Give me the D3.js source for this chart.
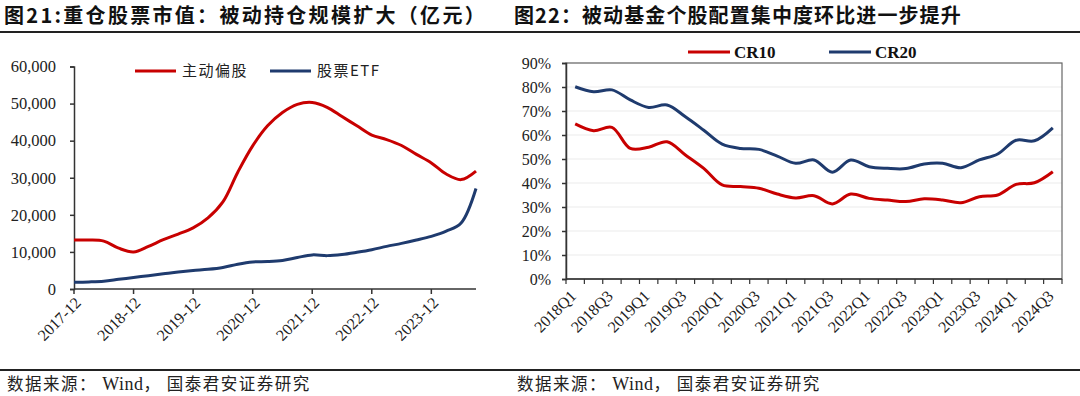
<!DOCTYPE html>
<html>
<head>
<meta charset="utf-8">
<script src="https://cdn.jsdelivr.net/npm/d3@7"></script>
<style>
  body { margin: 0; background: #fff; }
  svg { display: block; }
</style>
</head>
<body>
<svg id="chart"></svg>
<script>
// ---- data (left: 重仓股票市值, quarterly, 亿元) ----
const leftDates = [
  "2017-12", "2018-03", "2018-06", "2018-09", "2018-12", "2019-03", "2019-06",
  "2019-09", "2019-12", "2020-03", "2020-06", "2020-09", "2020-12", "2021-03",
  "2021-06", "2021-09", "2021-12", "2022-03", "2022-06", "2022-09", "2022-12",
  "2023-03", "2023-06", "2023-09", "2023-12", "2024-03", "2024-06", "2024-09"
];
const activeFund = [
  13200, 13200, 12900, 11000, 10000, 11500, 13300, 14800, 16500, 19200,
  23500, 31500, 38600, 44000, 47600, 49800, 50300, 49000, 46500, 44000,
  41500, 40300, 38700, 36300, 34000, 31000, 29500, 31800
];
const stockETF = [
  1800, 1900, 2100, 2600, 3100, 3600, 4100, 4600, 5000, 5300,
  5800, 6700, 7300, 7400, 7700, 8500, 9200, 9000, 9300, 9900,
  10600, 11500, 12300, 13200, 14200, 15600, 17800, 27100
];
const leftYTicks = [0, 10000, 20000, 30000, 40000, 50000, 60000];

// ---- data (right: 个股配置集中度) ----
const quarters = [
  "2018Q1", "2018Q2", "2018Q3", "2018Q4", "2019Q1", "2019Q2", "2019Q3",
  "2019Q4", "2020Q1", "2020Q2", "2020Q3", "2020Q4", "2021Q1", "2021Q2",
  "2021Q3", "2021Q4", "2022Q1", "2022Q2", "2022Q3", "2022Q4", "2023Q1",
  "2023Q2", "2023Q3", "2023Q4", "2024Q1", "2024Q2", "2024Q3"
];
const cr10 = [
  64.6, 61.8, 63.2, 54.4, 54.9, 57.2, 51.7, 46.1, 39.2, 38.5, 37.8, 35.4,
  33.8, 34.7, 31.3, 35.4, 33.6, 32.9, 32.3, 33.4, 32.9, 31.8, 34.3, 35.0,
  39.4, 40.1, 44.7
];
const cr20 = [
  80.1, 78.0, 78.8, 74.6, 71.5, 72.5, 67.6, 62.0, 56.2, 54.4, 54.0, 51.2,
  48.2, 49.6, 44.5, 49.6, 46.8, 46.1, 46.0, 47.9, 48.2, 46.4, 49.6, 52.1,
  57.8, 57.6, 63.0
];
const rightYTicks = [0, 10, 20, 30, 40, 50, 60, 70, 80, 90];

const RED = "#C80000";
const NAVY = "#1F3B6E";
const serif = "'Liberation Serif', 'Times New Roman', serif";
const cjk = "'Noto Sans CJK SC', sans-serif";

const W = 1080, H = 396;
const svg = d3.select("#chart").attr("width", W).attr("height", H);
svg.append("rect").attr("width", W).attr("height", H).attr("fill", "#fff");

// ---- titles, rules, sources ----
svg.append("text")
  .attr("x", 4).attr("y", 23)
  .attr("font-family", cjk).attr("font-weight", "bold").attr("font-size", "20px")
  .attr("letter-spacing", "2.3px")
  .attr("fill", "#111")
  .text("图21:重仓股票市值：被动持仓规模扩大（亿元）");

svg.append("text")
  .attr("x", 514).attr("y", 23)
  .attr("font-family", cjk).attr("font-weight", "bold").attr("font-size", "20px")
  .attr("letter-spacing", "1.1px")
  .attr("fill", "#111")
  .text("图22：被动基金个股配置集中度环比进一步提升");

[32, 370].forEach((yy) => {
  svg.append("line")
    .attr("x1", 0).attr("x2", W).attr("y1", yy).attr("y2", yy)
    .attr("stroke", "#222").attr("stroke-width", 2);
});

[7, 517].forEach((xx) => {
  const t = svg.append("text")
    .attr("x", xx).attr("y", 390)
    .attr("font-family", cjk).attr("font-size", "16.5px").attr("letter-spacing", "1.5px")
    .attr("fill", "#222");
  t.append("tspan").text("数据来源： ");
  t.append("tspan").attr("font-family", serif).attr("font-size", "18px").attr("letter-spacing", "0.5px").text("Wind");
  t.append("tspan").text("， 国泰君安证券研究");
});

// ================= left chart =================
const xL = d3.scalePoint().domain(leftDates).range([74, 476]);
const yL = d3.scaleLinear().domain([0, 60000]).range([289, 66.5]);

const gLy = svg.append("g")
  .attr("transform", "translate(74,0)")
  .call(d3.axisLeft(yL).tickValues(leftYTicks).tickSize(4).tickPadding(14).tickFormat(d3.format(",")));
gLy.select(".domain").attr("stroke", "#333").attr("stroke-width", 1.5);
gLy.selectAll(".tick line").attr("stroke", "#333").attr("stroke-width", 1.5);
gLy.selectAll("text").attr("font-family", serif).attr("font-size", "16.5px").attr("fill", "#222");

const yearTicks = leftDates.filter((d) => d.endsWith("-12"));
svg.append("line")
  .attr("x1", 74).attr("x2", 476).attr("y1", 289).attr("y2", 289)
  .attr("stroke", "#333").attr("stroke-width", 1.5);
yearTicks.forEach((d) => {
  svg.append("line")
    .attr("x1", xL(d)).attr("x2", xL(d)).attr("y1", 289).attr("y2", 294)
    .attr("stroke", "#333").attr("stroke-width", 1.5);
  svg.append("text")
    .attr("transform", `translate(${xL(d) + 4},${300}) rotate(-45)`)
    .attr("text-anchor", "end")
    .attr("dy", "0.35em")
    .attr("font-family", serif).attr("font-size", "16px").attr("fill", "#222")
    .text(d);
});

const lineL = (vals) => d3.line()
  .curve(d3.curveCatmullRom)
  .x((d, i) => xL(leftDates[i]))
  .y((d) => yL(d))(vals);

svg.append("path").attr("d", lineL(activeFund))
  .attr("fill", "none").attr("stroke", RED).attr("stroke-width", 3);
svg.append("path").attr("d", lineL(stockETF))
  .attr("fill", "none").attr("stroke", NAVY).attr("stroke-width", 3);

// legend
const legL = [[135, RED, "主动偏股"], [270, NAVY, "股票ETF"]];
legL.forEach(([lx, c, t]) => {
  svg.append("line")
    .attr("x1", lx).attr("x2", lx + 41).attr("y1", 71).attr("y2", 71)
    .attr("stroke", c).attr("stroke-width", 3);
  svg.append("text")
    .attr("x", lx + 47).attr("y", 76)
    .attr("font-family", cjk).attr("font-size", "15px").attr("letter-spacing", "1.5px")
    .attr("fill", "#222")
    .text(t);
});

// ================= right chart =================
const xR = d3.scaleBand().domain(quarters).range([566, 1062]);
const yR = d3.scaleLinear().domain([0, 90]).range([279, 63]);

// gridlines
rightYTicks.forEach((v) => {
  svg.append("line")
    .attr("x1", 566).attr("x2", 1062).attr("y1", yR(v)).attr("y2", yR(v))
    .attr("stroke", "#ebebeb").attr("stroke-width", 1.2);
});
// plot border
svg.append("rect")
  .attr("x", 566).attr("y", 63).attr("width", 496).attr("height", 216)
  .attr("fill", "none").attr("stroke", "#666").attr("stroke-width", 1.2);

const gRy = svg.append("g")
  .attr("transform", "translate(566,0)")
  .call(d3.axisLeft(yR).tickValues(rightYTicks).tickSize(4).tickPadding(11).tickFormat((d) => d + "%"));
gRy.select(".domain").attr("stroke", "#333").attr("stroke-width", 1.5);
gRy.selectAll(".tick line").attr("stroke", "#333").attr("stroke-width", 1.5);
gRy.selectAll("text").attr("font-family", serif).attr("font-size", "16px").attr("fill", "#222");

svg.append("line")
  .attr("x1", 566).attr("x2", 1062).attr("y1", 279).attr("y2", 279)
  .attr("stroke", "#333").attr("stroke-width", 1.5);
quarters.concat([null]).forEach((q) => {
  const bx = q ? xR(q) : xR.range()[1];
  svg.append("line")
    .attr("x1", bx).attr("x2", bx).attr("y1", 279).attr("y2", 284)
    .attr("stroke", "#333").attr("stroke-width", 1.2);
});
quarters.filter((q) => q.endsWith("Q1") || q.endsWith("Q3")).forEach((q) => {
  const cx = xR(q) + xR.bandwidth() / 2;
  svg.append("text")
    .attr("transform", `translate(${cx - 2},${293}) rotate(-45)`)
    .attr("text-anchor", "end")
    .attr("dy", "0.35em")
    .attr("font-family", serif).attr("font-size", "16px").attr("fill", "#222")
    .text(q);
});

const lineR = (vals) => d3.line()
  .curve(d3.curveCatmullRom)
  .x((d, i) => xR(quarters[i]) + xR.bandwidth() / 2)
  .y((d) => yR(d))(vals);

svg.append("path").attr("d", lineR(cr10))
  .attr("fill", "none").attr("stroke", RED).attr("stroke-width", 3);
svg.append("path").attr("d", lineR(cr20))
  .attr("fill", "none").attr("stroke", NAVY).attr("stroke-width", 3);

const legR = [[688, RED, "CR10"], [829, NAVY, "CR20"]];
legR.forEach(([lx, c, t]) => {
  svg.append("line")
    .attr("x1", lx).attr("x2", lx + 42).attr("y1", 52).attr("y2", 52)
    .attr("stroke", c).attr("stroke-width", 3);
  svg.append("text")
    .attr("x", lx + 46).attr("y", 58)
    .attr("font-family", serif).attr("font-weight", "bold").attr("font-size", "17px")
    .attr("fill", "#111")
    .text(t);
});
</script>
</body>
</html>
